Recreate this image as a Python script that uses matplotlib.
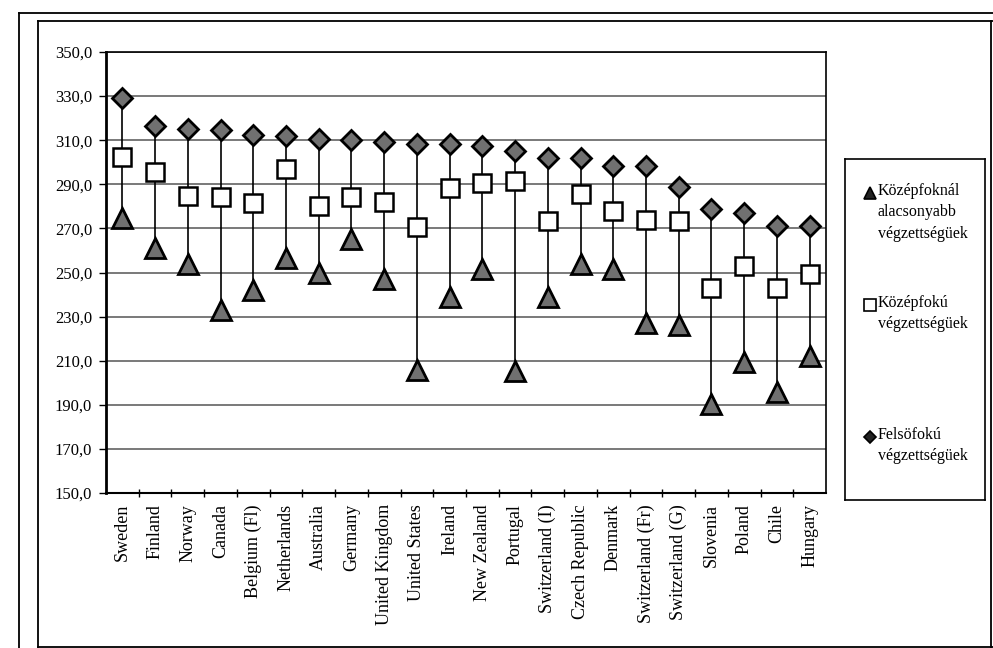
import matplotlib.pyplot as plt
from matplotlib.lines import Line2D
from matplotlib.ticker import FuncFormatter

plt.rcParams['font.family'] = ['Liberation Serif', 'DejaVu Serif']

countries = ['Sweden', 'Finland', 'Norway', 'Canada', 'Belgium (Fl)', 'Netherlands',
             'Australia', 'Germany', 'United Kingdom', 'United States', 'Ireland',
             'New Zealand', 'Portugal', 'Switzerland (I)', 'Czech Republic', 'Denmark',
             'Switzerland (Fr)', 'Switzerland (G)', 'Slovenia', 'Poland', 'Chile', 'Hungary']
# Felsőfokú végzettségűek
tertiary = [329.3, 316.5, 315.3, 314.5, 312.2, 311.9, 310.7, 310.0, 309.2, 308.4, 308.2,
            307.3, 305.0, 302.1, 302.1, 298.2, 298.2, 288.8, 279.0, 277.2, 271.1, 271.1]
# Középfokú végzettségűek
upper_sec = [302.4, 295.6, 284.9, 284.1, 281.6, 297.1, 280.0, 284.3, 282.0, 270.7, 288.1,
             290.8, 291.4, 273.3, 285.5, 278.1, 273.7, 273.3, 243.0, 252.9, 243.0, 249.5]
# Középfoknál alacsonyabb végzettségűek
below_sec = [274.9, 261.2, 253.8, 232.8, 242.0, 256.8, 250.0, 265.1, 247.0, 205.7, 238.7,
             251.5, 205.2, 238.7, 253.8, 251.5, 227.3, 226.2, 190.3, 209.2, 195.6, 212.2]
y_ticks = [150, 170, 190, 210, 230, 250, 270, 290, 310, 330, 350]

legend_labels = ['Középfoknál\nalacsonyabb\nvégzettségüek',
                 'Középfokú\nvégzettségüek',
                 'Felsöfokú\nvégzettségüek']

W, H = 993, 648
fig = plt.figure(figsize=(W / 100, H / 100), dpi=100)

# scanned page frames
for x0, y0 in [(19, 13), (38, 21)]:
    fig.add_artist(Line2D([x0 / W, 1], [1 - y0 / H, 1 - y0 / H], color='black', lw=1.3,
                          transform=fig.transFigure))
    fig.add_artist(Line2D([x0 / W, x0 / W], [0, 1 - y0 / H], color='black', lw=1.3,
                          transform=fig.transFigure))
fig.add_artist(Line2D([38 / W, 1], [1.5 / H, 1.5 / H], color='black', lw=1.3,
                      transform=fig.transFigure))
fig.add_artist(Line2D([991 / W, 991 / W], [0, 1 - 21 / H], color='black', lw=1.3,
                      transform=fig.transFigure))

ax = fig.add_axes([106 / W, 1 - 493 / H, 720 / W, 441 / H])
x = list(range(len(countries)))

ax.set_ylim(150, 350)
ax.set_xlim(-0.5, len(countries) - 0.5)
ax.set_yticks(y_ticks)
ax.yaxis.set_major_formatter(FuncFormatter(lambda v, p: f'{v:.1f}'.replace('.', ',')))
ax.grid(axis='y', color='#555555', lw=1.1)
ax.set_axisbelow(True)

lows = [min(a, b, c) for a, b, c in zip(below_sec, upper_sec, tertiary)]
highs = [max(a, b, c) for a, b, c in zip(below_sec, upper_sec, tertiary)]
ax.vlines(x, lows, highs, color='black', lw=1.2, zorder=2)

ax.plot(x, below_sec, ls='none', marker='^', ms=14, mfc='#707070', mec='black', mew=2, zorder=3)
ax.plot(x, upper_sec, ls='none', marker='s', ms=12.5, mfc='white', mec='black', mew=1.8, zorder=3)
ax.plot(x, tertiary, ls='none', marker='D', ms=10, mfc='#707070', mec='black', mew=2, zorder=3)

ax.set_xticks([i + 0.5 for i in x[:-1]], minor=True)
ax.set_xticks(x)
ax.set_xticklabels(countries, rotation=90, fontsize=13)
ax.tick_params(axis='x', which='major', length=0, pad=8)
ax.tick_params(axis='x', which='minor', length=6, direction='inout', width=1)
ax.tick_params(axis='y', length=5, width=1, labelsize=12, pad=5)
ax.spines['left'].set_linewidth(2)
ax.spines['bottom'].set_linewidth(1.5)
ax.spines['top'].set_linewidth(1.2)
ax.spines['right'].set_linewidth(1.2)

# legend box
lax = fig.add_axes([845 / W, 1 - 500 / H, 140 / W, 341 / H])
lax.set_xlim(0, 140)
lax.set_ylim(341, 0)
lax.set_xticks([])
lax.set_yticks([])
for s in lax.spines.values():
    s.set_linewidth(1.2)
entries = [('^', '#222222', 9), ('s', 'white', 9), ('D', '#222222', 6.5)]
marker_rows = [34, 146, 278]
for (m, fc, ms), lab, ty in zip(entries, legend_labels, marker_rows):
    lax.plot([25], [ty], marker=m, ms=ms, mfc=fc, mec='black', mew=1.2, ls='none')
    # first text line sits next to the marker
    lax.text(33, ty - 10, lab, fontsize=11.5, va='top', ha='left', linespacing=1.45)

fig.savefig('out.png', dpi=100)
